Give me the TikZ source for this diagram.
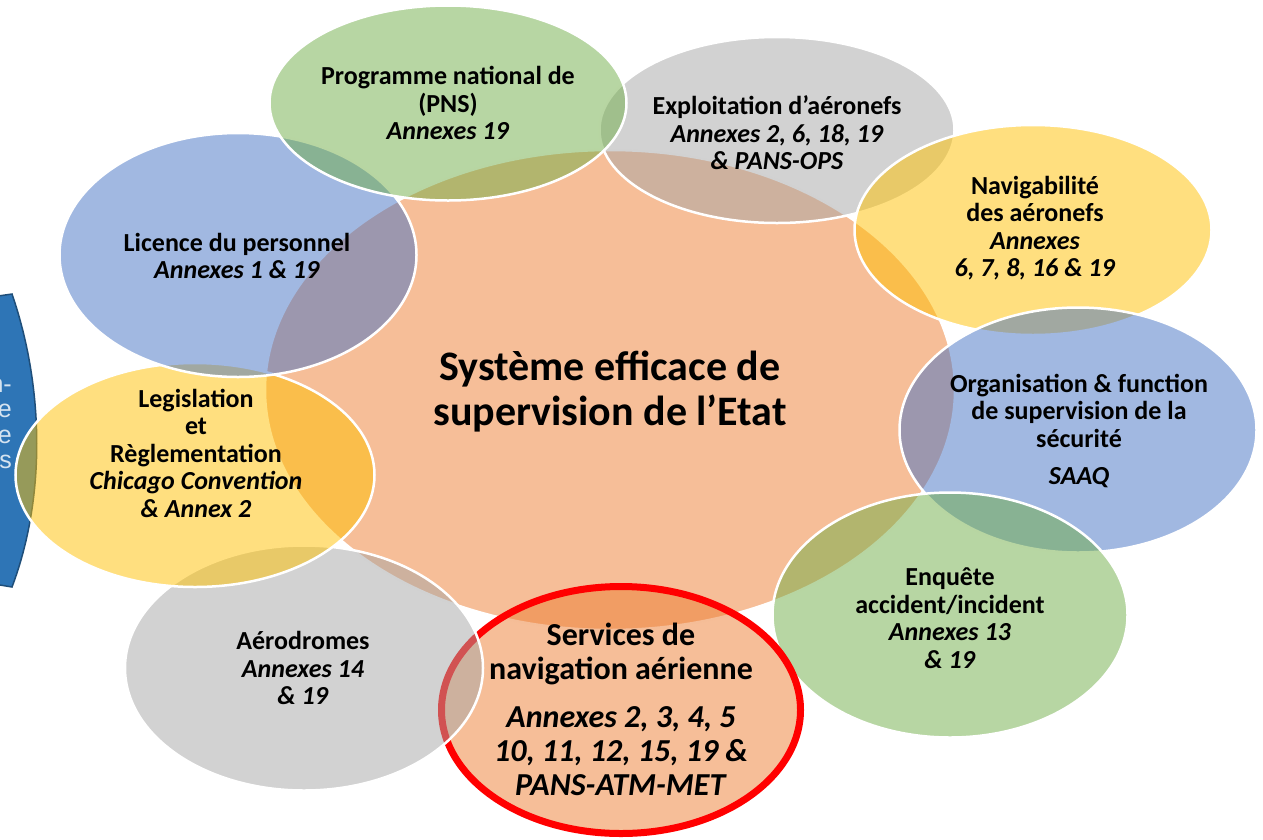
\documentclass[tikz,border=0pt]{standalone}
\usepackage{fontspec}
\setmainfont{Carlito}
\newfontfamily\fragfont{Liberation Sans}
\usetikzlibrary{shapes.geometric}

\definecolor{accOrange}{HTML}{ED7D31}
\definecolor{accBlue}{HTML}{4472C4}
\definecolor{accGray}{HTML}{A5A5A5}
\definecolor{accYellow}{HTML}{FFC000}
\definecolor{accGreen}{HTML}{70AD47}
\definecolor{panelBlue}{HTML}{2E75B6}
\definecolor{panelEdge}{HTML}{1F4E79}

\tikzset{
  every bubble/.style={ellipse, draw=white, line width=2.5pt, fill opacity=0.5, inner sep=0pt},
  bubble srv/.style={draw=red, line width=7pt},
  bubble text/.style={align=center, text=black, font=\fontsize{26}{27.5}\selectfont\bfseries},
}

\begin{document}
\begin{tikzpicture}[x=1pt, y=-1pt]

    \useasboundingbox (0,0) rectangle (1263,839);
    \clip (0,0) rectangle (1263,839);

    % panel cut by the left edge
    \filldraw [fill=panelBlue, draw=panelEdge, line width=1.5pt]
        (-30,300) -- (12,294) .. controls (45,390) and (45,500) .. (12,587) -- (-30,580) -- cycle;
    \node [anchor=east, align=right, inner sep=0pt, text=white!80!panelBlue, font=\fragfont\fontsize{25}{25.5}\selectfont]
        (panel-t) at (12,424) {n-\\e\\e\\s};

    % central bubble
    \node [every bubble/.try, fill=accOrange, minimum width=690pt, minimum height=480pt] (core) at (610,390) {};

    % outer bubbles, bottom layer first
    \foreach \n/\c/\x/\y/\w/\h in {expl/accGray/777/130/355/186,
                                   nav/accYellow/1033/230/357/210,
                                   org/accBlue/1078/430/357/245,
                                   enq/accGreen/950/615/355/245,
                                   srv/accOrange/621/710/359/247,
                                   aer/accGray/304/668/358/245,
                                   leg/accYellow/195/475/359/224,
                                   lic/accBlue/238/255/357/244,
                                   prog/accGreen/448/103/357/195}
        \node [every bubble/.try, bubble \n/.try, fill=\c, minimum width=\w pt, minimum height=\h pt] (\n) at (\x,\y) {};

    % texts
    \node [bubble text, font=\fontsize{42}{45}\selectfont\bfseries] (core-t) at (610,392)
        {Système efficace de\\supervision de l’Etat};
    \node [bubble text] (prog-t) at (448,103) {Programme national de\\(PNS)\\\textit{Annexes 19}};
    \node [bubble text] (expl-t) at (777,133) {Exploitation d’aéronefs\\\textit{Annexes 2, 6, 18, 19}\\\textit{\& PANS-OPS}};
    \node [bubble text] (nav-t) at (1035,228) {Navigabilité\\des aéronefs\\\textit{Annexes}\\\textit{6, 7, 8, 16 \& 19}};
    \node [bubble text] (org-t) at (1079,431) {Organisation \& function\\de supervision de la\\sécurité\\[10pt]\textit{SAAQ}};
    \node [bubble text] (enq-t) at (950,618) {Enquête\\accident/incident\\\textit{Annexes 13}\\\textit{\& 19}};
    \node [bubble text, font=\fontsize{32}{34}\selectfont\bfseries] (srv-t) at (621,709)
        {Services de\\navigation aérienne\\[14pt]\textit{Annexes 2, 3, 4, 5}\\\textit{10, 11, 12, 15, 19 \&}\\\textit{PANS-ATM-MET}};
    \node [bubble text] (aer-t) at (303,668) {Aérodromes\\\textit{Annexes 14}\\\textit{\& 19}};
    \node [bubble text] (leg-t) at (196,453) {Legislation\\et\\Règlementation\\\textit{Chicago Convention}\\\textit{\& Annex 2}};
    \node [bubble text] (lic-t) at (237,256) {Licence du personnel\\\textit{Annexes 1 \& 19}};

\end{tikzpicture}
\end{document}
